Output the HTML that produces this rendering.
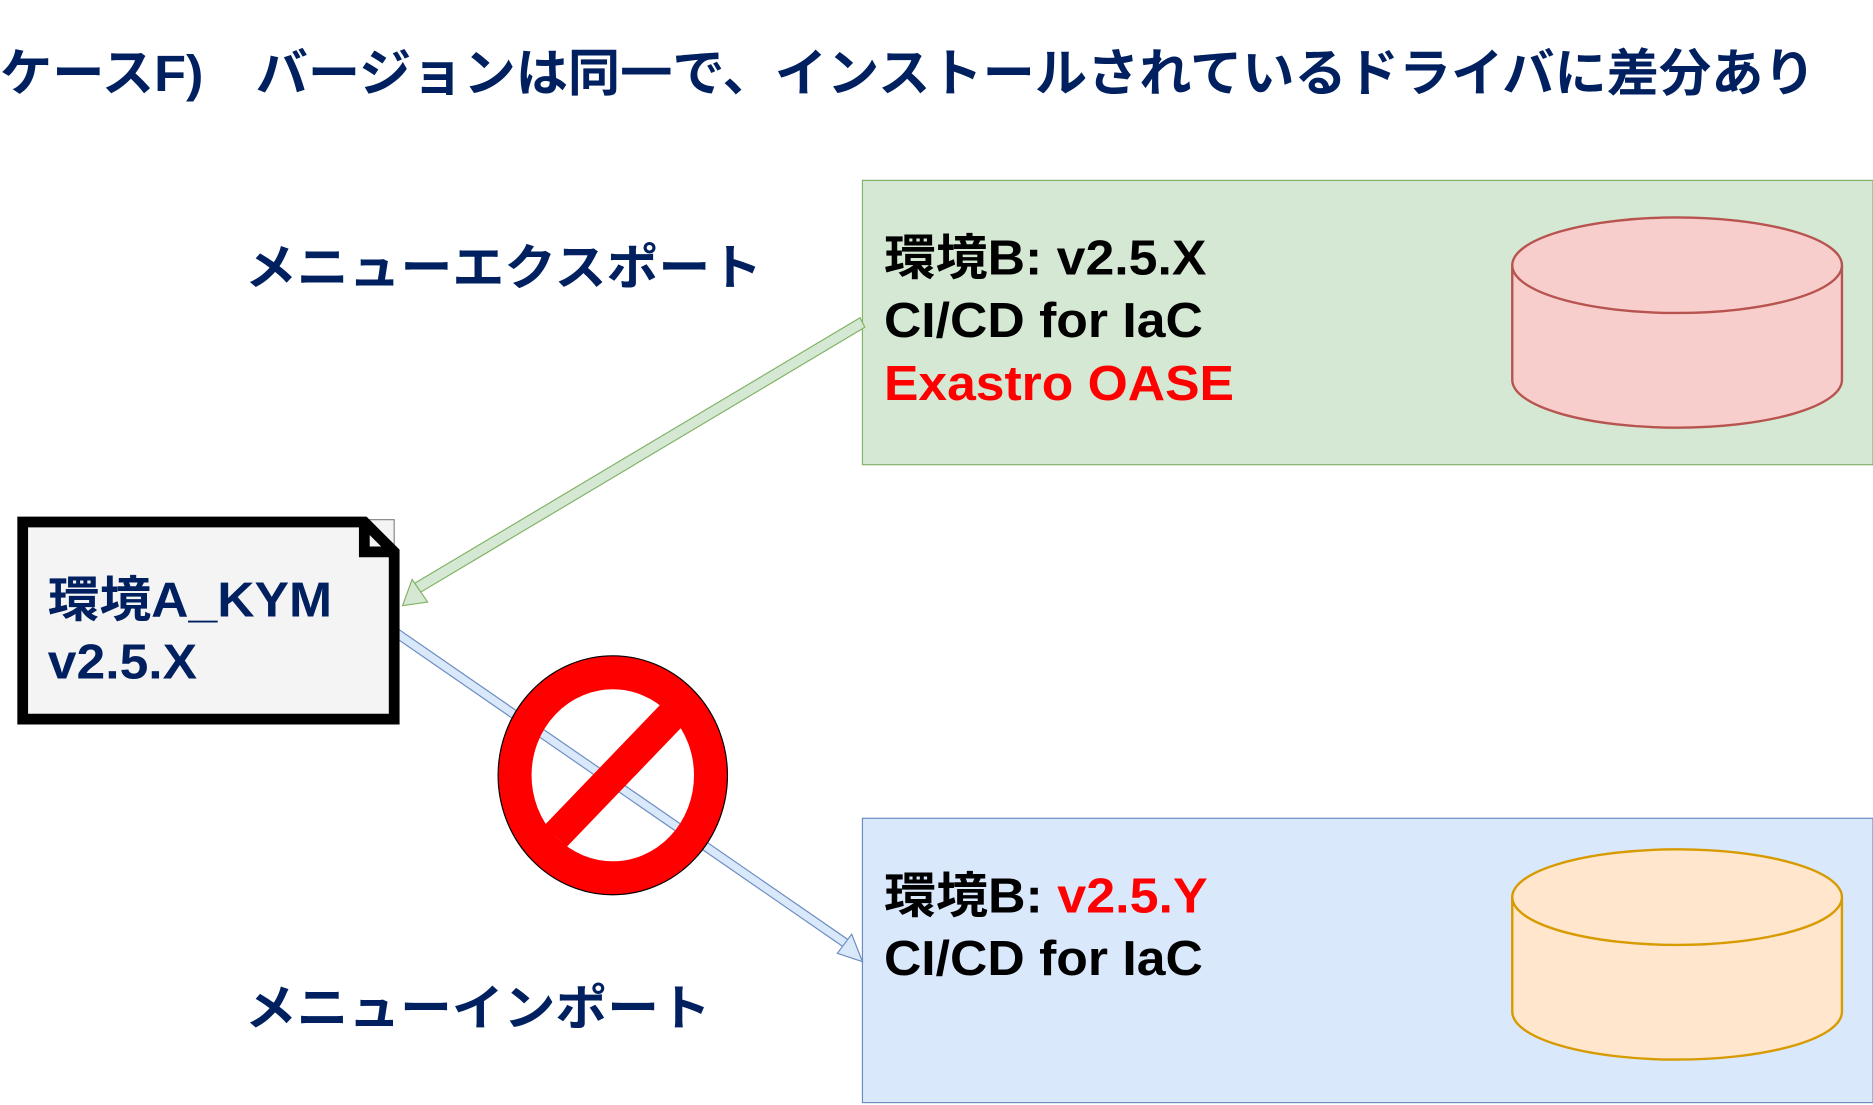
<!DOCTYPE html>
<html><head><meta charset="utf-8"><style>
html,body{margin:0;padding:0;background:#fff;overflow:hidden}
svg{display:block}
text{font-family:"Liberation Sans","Noto Sans CJK JP",sans-serif;font-weight:bold}
</style></head><body>
<svg width="1873" height="1105" viewBox="0 0 1568 925" preserveAspectRatio="none" xmlns="http://www.w3.org/2000/svg">
<text x="0" y="76" font-size="43" fill="#002060" textLength="1520" lengthAdjust="spacingAndGlyphs">ケースF)　バージョンは同一で、インストールされているドライバに差分あり</text>
<text x="205" y="238" font-size="41" fill="#002060" textLength="433" lengthAdjust="spacingAndGlyphs">メニューエクスポート</text>
<text x="205" y="858" font-size="41" fill="#002060" textLength="390" lengthAdjust="spacingAndGlyphs">メニューインポート</text>
<rect x="722" y="151" width="846" height="238" fill="#d5e8d4" stroke="#82b366" stroke-width="1"/>
<text x="740" y="230" font-size="41" fill="#000" textLength="270" lengthAdjust="spacingAndGlyphs">環境B: v2.5.X</text>
<text x="740" y="282" font-size="41" fill="#000" textLength="267" lengthAdjust="spacingAndGlyphs">CI/CD for IaC</text>
<text x="740" y="335" font-size="41" fill="#ff0000" textLength="293" lengthAdjust="spacingAndGlyphs">Exastro OASE</text>
<path d="M1266,222 L1266,318 A138,40 0 0 0 1542,318 L1542,222" fill="#f8cecc" stroke="#b85450" stroke-width="2"/>
<ellipse cx="1404" cy="222" rx="138" ry="40" fill="#f8cecc" stroke="#b85450" stroke-width="2"/>
<rect x="722" y="685" width="846" height="238" fill="#dae8fc" stroke="#6c8ebf" stroke-width="1"/>
<text x="740" y="764" font-size="41" fill="#000" textLength="271" lengthAdjust="spacingAndGlyphs">環境B: <tspan fill="#ff0000">v2.5.Y</tspan></text>
<text x="740" y="816" font-size="41" fill="#000" textLength="267" lengthAdjust="spacingAndGlyphs">CI/CD for IaC</text>
<path d="M1266,751 L1266,847 A138,40 0 0 0 1542,847 L1542,751" fill="#ffe6cc" stroke="#d79b00" stroke-width="2"/>
<ellipse cx="1404" cy="751" rx="138" ry="40" fill="#ffe6cc" stroke="#d79b00" stroke-width="2"/>
<polygon points="720,266 724,274 350,497 346,489" fill="#d5e8d4" stroke="#82b366" stroke-width="1"/>
<polygon points="337,507 345,485 358,504" fill="#d5e8d4" stroke="#82b366" stroke-width="1"/>
<polygon points="330,533 334,527 712,788 708,794" fill="#dae8fc" stroke="#6c8ebf" stroke-width="1"/>
<polygon points="722,805 713,782 701,798" fill="#dae8fc" stroke="#6c8ebf" stroke-width="1"/>
<rect x="305" y="435" width="25" height="25" fill="#f4f4f4" stroke="#888" stroke-width="1"/>
<path d="M19,437 L305,437 L330,462 L330,602 L19,602 Z" fill="#f4f4f4" stroke="#000" stroke-width="9"/>
<path d="M305,437 L305,462 L330,462" fill="none" stroke="#000" stroke-width="9"/>
<text x="40" y="516" font-size="41" fill="#002060" textLength="238" lengthAdjust="spacingAndGlyphs">環境A_KYM</text>
<text x="40" y="568" font-size="41" fill="#002060" textLength="125" lengthAdjust="spacingAndGlyphs">v2.5.X</text>
<ellipse cx="513" cy="649" rx="82" ry="86" fill="none" stroke="#ff0000" stroke-width="28"/>
<ellipse cx="513" cy="649" rx="96" ry="100" fill="none" stroke="#000" stroke-width="1"/>
<line x1="465" y1="700" x2="563" y2="598" stroke="#ff0000" stroke-width="26"/>
</svg>
</body></html>
